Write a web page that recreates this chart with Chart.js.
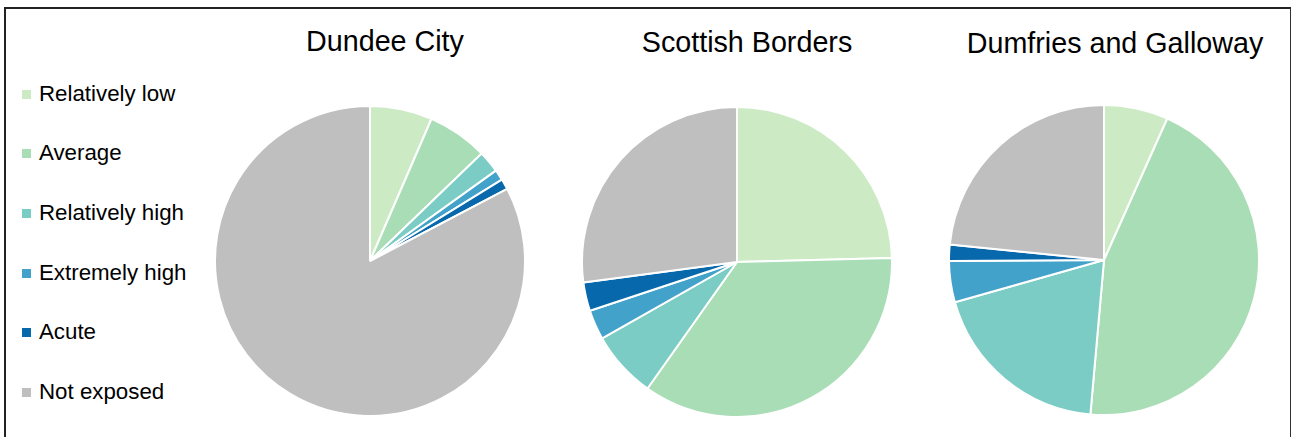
<!DOCTYPE html>
<html>
<head>
<meta charset="utf-8">
<script src="https://cdn.jsdelivr.net/npm/chart.js@4"></script>
<style>
    body {
        margin: 0;
        width: 1292px;
        height: 437px;
        background: #fff;
        overflow: hidden;
        position: relative;
        font-family: "Liberation Sans", Arial, sans-serif;
    }
    .frame {
        position: absolute;
        left: 4px;
        top: 7px;
        width: 1284px;
        height: 460px;
        border-top: 2px solid #222;
        border-left: 2px solid #222;
        border-right: 1px solid #333;
    }
    .pie_title {
        position: absolute;
        width: 400px;
        text-align: center;
        font-size: 28.7px;
        color: #000;
        white-space: nowrap;
    }
    .pie_box {
        position: absolute;
        width: 312px;
        height: 312px;
    }
    .legend_row {
        position: absolute;
        left: 22px;
        font-size: 22.3px;
        color: #000;
        white-space: nowrap;
    }
    .legend_swatch {
        display: inline-block;
        width: 9px;
        height: 9px;
        margin-right: 8px;
        vertical-align: 2px;
    }
</style>
</head>
<body>
<div class="frame"></div>
<div id="legend"></div>

<div class="pie_title" style="left:185px; top:25px;">Dundee City</div>
<div class="pie_title" style="left:547px; top:26px;">Scottish Borders</div>
<div class="pie_title" style="left:915px; top:27px;">Dumfries and Galloway</div>

<div class="pie_box" style="left:214px; top:105px;"><canvas id="dundee" width="312" height="312"></canvas></div>
<div class="pie_box" style="left:581px; top:106px;"><canvas id="borders" width="312" height="312"></canvas></div>
<div class="pie_box" style="left:948px; top:104px;"><canvas id="dumfries" width="312" height="312"></canvas></div>

<script>
const categories = ["Relatively low", "Average", "Relatively high", "Extremely high", "Acute", "Not exposed"];
const colours = ["#ccebc5", "#a8ddb5", "#7bccc4", "#43a2ca", "#0868ac", "#bfbfbf"];

// share of population in each exposure band (%)
const dundeeCity = [6.5, 6.3, 2.3, 1.1, 1.1, 82.7];
const scottishBorders = [24.6, 35.2, 7.0, 3.1, 3.0, 27.1];
const dumfriesGalloway = [6.7, 44.7, 19.2, 4.3, 1.7, 23.4];

/**
 * Legend on the left, one row per category
 */
function buildLegend() {
    let legendEl = document.getElementById("legend");
    for (let i = 0; i < categories.length; i++) {
        let row = document.createElement("div");
        row.className = "legend_row";
        row.style.top = (80.5 + i * 59.7) + "px";
        let swatch = document.createElement("span");
        swatch.className = "legend_swatch";
        swatch.style.background = colours[i];
        row.appendChild(swatch);
        row.appendChild(document.createTextNode(categories[i]));
        legendEl.appendChild(row);
    }
}

function renderPie(canvasId, values) {
    const ctx = document.getElementById(canvasId);
    return new Chart(ctx, {
        type: 'pie',
        data: {
            labels: categories,
            datasets: [{
                data: values,
                backgroundColor: colours,
                borderColor: "#ffffff",
                borderWidth: 2
            }]
        },
        options: {
            responsive: false,
            animation: false,
            layout: {padding: 0},
            plugins: {
                legend: {display: false},
                tooltip: {enabled: false}
            }
        }
    });
}

buildLegend();
renderPie("dundee", dundeeCity);
renderPie("borders", scottishBorders);
renderPie("dumfries", dumfriesGalloway);
</script>
</body>
</html>
